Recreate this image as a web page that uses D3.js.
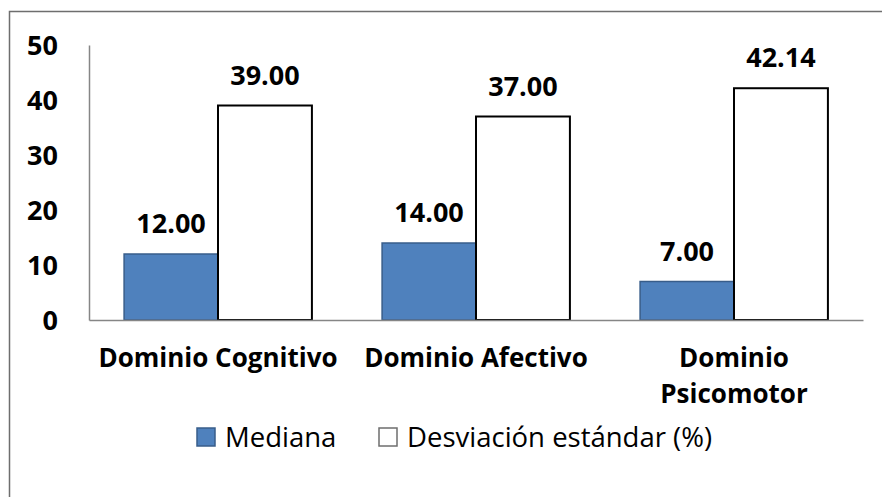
<!DOCTYPE html>
<html>
<head>
<meta charset="utf-8">
<script src="https://cdn.jsdelivr.net/npm/d3@7"></script>
<style>
  body { margin: 0; background: #fff; }
  text { fill: #000; font-family: "Open Sans", sans-serif; }
  .y-axis .tick text { font-weight: bold; font-size: 27px; }
  .x-axis .tick text { font-weight: bold; font-size: 26px; }
  .bar-label { font-weight: bold; font-size: 27px; }
  .legend text { font-size: 27.5px; }
</style>
</head>
<body>
<svg id="chart" width="882" height="497"></svg>
<script>
// chart data
const categories = ['Dominio Cognitivo', 'Dominio Afectivo', 'Dominio Psicomotor'];
const seriesNames = ['Mediana', 'Desviación estándar (%)'];
const mediana = [12.00, 14.00, 7.00];
const desviacion = [39.00, 37.00, 42.14];
const yTicks = [0, 10, 20, 30, 40, 50];

const data = categories.map((c, i) => ({ cat: c, values: [mediana[i], desviacion[i]] }));

const svg = d3.select('#chart');

// outer chart frame (runs off the right/bottom edge like the source)
svg.append('rect')
  .attr('x', 9.5).attr('y', 11.5)
  .attr('width', 900).attr('height', 520)
  .attr('fill', '#fff')
  .attr('stroke', '#6e6e6e')
  .attr('stroke-width', 1.5);

const plot = { left: 89, right: 863, top: 45, bottom: 320 };

const x0 = d3.scaleBand()
  .domain(categories)
  .range([plot.left, plot.right])
  .paddingInner(0.272)
  .paddingOuter(0.136);

const x1 = d3.scaleBand()
  .domain(d3.range(seriesNames.length))
  .range([0, x0.bandwidth()]);

const y = d3.scaleLinear()
  .domain([0, 50])
  .range([plot.bottom, plot.top]);

const fills = ['#4f81bd', '#ffffff'];
const strokes = ['#385d8a', '#000000'];

// y axis
const yAxis = svg.append('g')
  .attr('class', 'y-axis')
  .attr('transform', `translate(${plot.left},0)`)
  .call(d3.axisLeft(y).tickValues(yTicks).tickSize(0).tickPadding(31));
yAxis.attr('font-family', null).attr('font-size', null);
yAxis.select('.domain').attr('stroke', '#868686').attr('stroke-width', 1.5);
yAxis.selectAll('.tick text').attr('fill', '#000').attr('dy', '0.36em');

// bars
const groups = svg.append('g')
  .selectAll('g')
  .data(data)
  .join('g')
  .attr('transform', d => `translate(${x0(d.cat)},0)`);

groups.selectAll('rect')
  .data(d => d.values)
  .join('rect')
  .attr('x', (v, i) => x1(i))
  .attr('y', v => y(v))
  .attr('width', x1.bandwidth())
  .attr('height', v => y(0) - y(v))
  .attr('fill', (v, i) => fills[i])
  .attr('stroke', (v, i) => strokes[i])
  .attr('stroke-width', (v, i) => i === 0 ? 1.5 : 2);

// value labels
groups.selectAll('.bar-label')
  .data(d => d.values)
  .join('text')
  .attr('class', 'bar-label')
  .attr('x', (v, i) => x1(i) + x1.bandwidth() / 2)
  .attr('y', v => y(v) - 21)
  .attr('text-anchor', 'middle')
  .text(v => d3.format('.2f')(v));

// x axis
const xAxis = svg.append('g')
  .attr('class', 'x-axis')
  .attr('transform', `translate(0,${plot.bottom})`)
  .call(d3.axisBottom(x0).tickSize(0).tickPadding(0).tickSizeOuter(0));
xAxis.attr('font-family', null).attr('font-size', null);
xAxis.select('.domain').attr('stroke', '#868686').attr('stroke-width', 1.5);
xAxis.selectAll('.tick text')
  .attr('fill', '#000')
  .attr('y', 47)
  .attr('dy', 0)
  .call(wrap, 250);

function wrap(text, width) {
  text.each(function() {
    const t = d3.select(this);
    const words = t.text().split(/\s+/);
    t.text(null);
    let line = [];
    let tspan = t.append('tspan').attr('x', 0).attr('dy', 0);
    words.forEach(w => {
      line.push(w);
      tspan.text(line.join(' '));
      if (tspan.node().getComputedTextLength() > width && line.length > 1) {
        line.pop();
        tspan.text(line.join(' '));
        line = [w];
        tspan = t.append('tspan').attr('x', 0).attr('dy', 36).text(w);
      }
    });
  });
}

// legend
const legend = svg.append('g').attr('class', 'legend').attr('transform', 'translate(197,428)');
const legendX = [0, 182];
seriesNames.forEach((name, i) => {
  const item = legend.append('g').attr('transform', `translate(${legendX[i]},0)`);
  item.append('rect')
    .attr('width', 18).attr('height', 18)
    .attr('fill', fills[i])
    .attr('stroke', i === 0 ? '#385d8a' : '#6e6e6e')
    .attr('stroke-width', 1.5);
  item.append('text')
    .attr('x', 28).attr('y', 9)
    .attr('dy', '0.36em')
    .text(name);
});
</script>
</body>
</html>
